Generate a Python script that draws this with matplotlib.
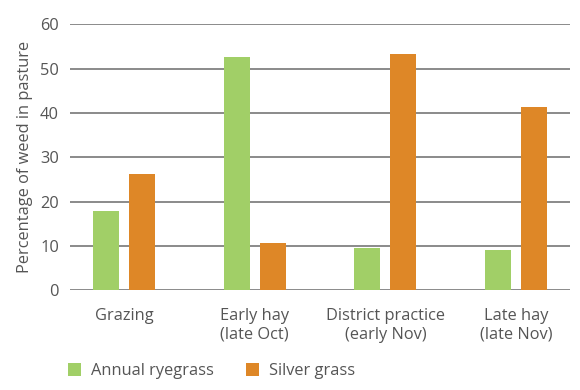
import matplotlib.pyplot as plt
import numpy as np

plt.rcParams['font.family'] = ['Open Sans', 'DejaVu Sans']

categories = ['Grazing', 'Early hay\n(late Oct)', 'District practice\n(early Nov)', 'Late hay\n(late Nov)']
ryegrass = [17.9, 52.6, 9.5, 9.1]
silver = [26.2, 10.7, 53.3, 41.4]
series_names = ['Annual ryegrass', 'Silver grass']
yticks = [0, 10, 20, 30, 40, 50, 60]

green = '#a1cf67'
orange = '#de8727'
txt = '#555555'
fs = 11.8

fig = plt.figure(figsize=(5.8, 3.9), dpi=100)
ax = fig.add_axes([0.1207, 0.2556, 0.8621, 0.6821])

x = np.arange(len(categories))
w = 0.199
off = 0.138
ax.bar(x - off, ryegrass, w, color=green, label=series_names[0], zorder=3)
ax.bar(x + off, silver, w, color=orange, label=series_names[1], zorder=3)

ax.set_xlim(-0.413, 3.413)
ax.set_ylim(0, 60)
ax.set_yticks(yticks)
ax.yaxis.grid(True, color='#6b6b6b', linewidth=1.1, zorder=0)
ax.set_axisbelow(True)
for s in ax.spines.values():
    s.set_visible(False)
ax.tick_params(axis='both', length=0, labelsize=fs, colors=txt)
ax.tick_params(axis='y', pad=8)
ax.tick_params(axis='x', pad=13)
ax.set_xticks(x)
ax.set_xticklabels(categories, linespacing=1.2)
ax.set_ylabel('Percentage of weed in pasture', fontsize=fs, color=txt, labelpad=5)

ax.legend(loc='upper left', bbox_to_anchor=(-0.018, -0.25), ncol=2, frameon=False,
          fontsize=fs, labelcolor=txt, handlelength=0.8, handleheight=0.8,
          handletextpad=0.6, columnspacing=2.0, borderaxespad=0)

fig.savefig('out.png', dpi=100)
